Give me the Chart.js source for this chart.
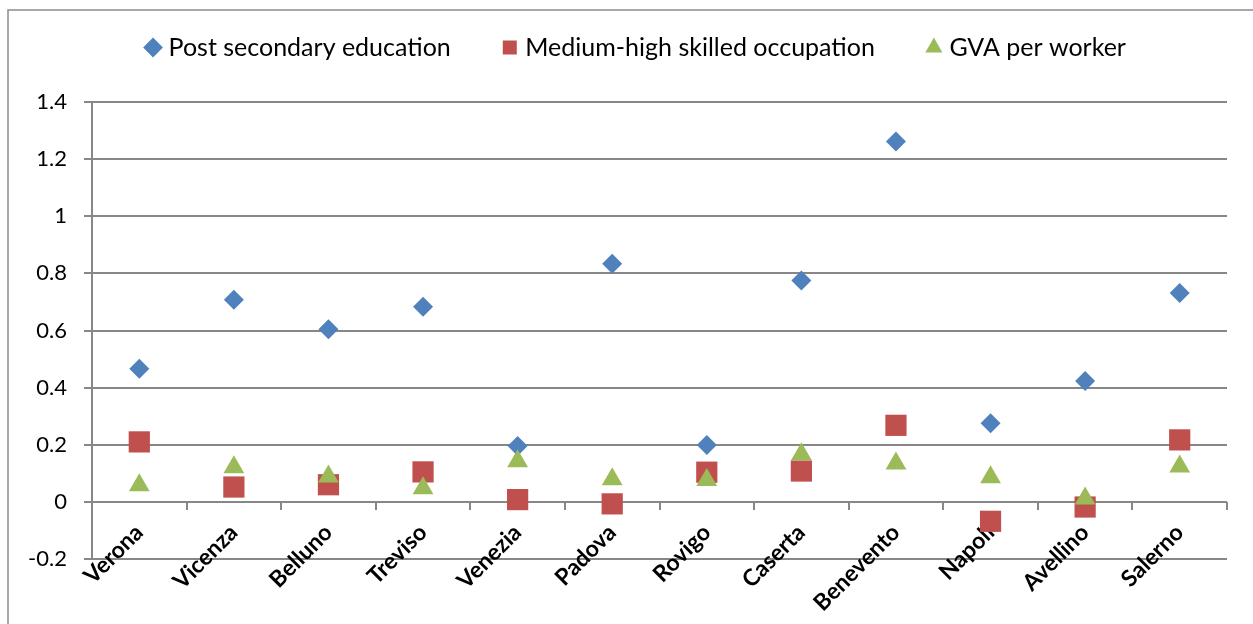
<!DOCTYPE html>
<html>
<head>
<meta charset="utf-8">
<script src="https://cdn.jsdelivr.net/npm/chart.js@4.4.1/dist/chart.umd.min.js"></script>
<style>
  html, body { margin: 0; padding: 0; background: #fff; }
  #wrap { position: relative; width: 1253px; height: 624px; }
</style>
</head>
<body>
<div id="wrap"><canvas id="chart"></canvas></div>
<script>
// provinces along the x axis
var provinces = ['Verona', 'Vicenza', 'Belluno', 'Treviso', 'Venezia', 'Padova',
                 'Rovigo', 'Caserta', 'Benevento', 'Napoli', 'Avellino', 'Salerno'];

// values
var postSecondary = [0.466, 0.708, 0.604, 0.683, 0.196, 0.834, 0.199, 0.775, 1.262, 0.275, 0.423, 0.731];
var mediumHigh    = [0.21, 0.052, 0.06, 0.105, 0.008, -0.007, 0.104, 0.108, 0.268, -0.068, -0.018, 0.217];
var gvaWorker     = [0.058, 0.121, 0.089, 0.048, 0.142, 0.079, 0.077, 0.167, 0.134, 0.086, 0.012, 0.124];

var yMin = -0.2, yMax = 1.4, yStep = 0.2;

var gridGrey = '#878787';
var font = 'Lato, "Open Sans", sans-serif';

var framePlugin = {
    id: 'frame',
    afterLayout: function(chart) {
        // let the y tick labels use the space left of the axis box
        chart.scales.y.left = 0;
    },
    beforeDraw: function(chart) {
        var ctx = chart.ctx;
        ctx.save();
        ctx.fillStyle = '#fff';
        ctx.fillRect(0, 0, chart.width, chart.height);
        ctx.strokeStyle = '#8c8c8c';
        ctx.lineWidth = 1.5;
        ctx.strokeRect(8, 10, 1400, 700);
        ctx.restore();
    }
};

var ctx = document.getElementById('chart').getContext('2d');
new Chart(ctx, {
    type: 'line',
    data: {
        labels: provinces,
        datasets: [{
            label: 'Post secondary education',
            data: postSecondary,
            showLine: false,
            pointStyle: 'rectRot',
            pointRadius: 10,
            pointHoverRadius: 10,
            pointBorderWidth: 0,
            backgroundColor: '#4F81BD',
            borderColor: '#4F81BD',
            order: 2
        }, {
            label: 'Medium-high skilled occupation',
            data: mediumHigh,
            showLine: false,
            pointStyle: 'rect',
            pointRadius: 15,
            pointHoverRadius: 15,
            pointBorderWidth: 0,
            backgroundColor: '#C0504D',
            borderColor: '#C0504D',
            order: 1
        }, {
            label: 'GVA per worker',
            data: gvaWorker,
            showLine: false,
            pointStyle: 'triangle',
            pointRadius: 12,
            pointHoverRadius: 12,
            pointBorderWidth: 0,
            backgroundColor: '#9BBB59',
            borderColor: '#9BBB59',
            order: 0
        }]
    },
    options: {
        responsive: true,
        maintainAspectRatio: false,
        animation: false,
        layout: {
            padding: { top: -21, left: 49, right: 26, bottom: 65 }
        },
        plugins: {
            tooltip: { enabled: false },
            legend: {
                position: 'top',
                labels: {
                    usePointStyle: true,
                    boxWidth: 6,
                    boxHeight: 14,
                    padding: 56,
                    color: '#000',
                    font: { family: font, size: 25 },
                    sort: function(a, b) { return a.datasetIndex - b.datasetIndex; }
                }
            },
            // empty title used as a gap between the legend and the plot
            title: {
                display: true,
                text: '',
                weight: 500,
                font: { size: 10, lineHeight: 1 },
                padding: { top: 11, bottom: 11 }
            }
        },
        scales: {
            x: {
                type: 'category',
                offset: true,
                position: { y: 0 },
                grid: {
                    offset: true,
                    drawOnChartArea: false,
                    drawTicks: true,
                    tickLength: 8,
                    color: gridGrey,
                    lineWidth: 2
                },
                border: { display: false },
                ticks: {
                    autoSkip: false,
                    minRotation: 45,
                    maxRotation: 45,
                    padding: 9,
                    color: '#000',
                    font: { family: font, size: 23, weight: 'bold' }
                }
            },
            y: {
                min: yMin,
                max: yMax,
                grid: {
                    color: gridGrey,
                    lineWidth: 2,
                    tickLength: 8
                },
                border: { display: true, color: gridGrey, width: 2 },
                ticks: {
                    stepSize: yStep,
                    padding: 17,
                    color: '#000',
                    font: { family: font, size: 22 },
                    callback: function(v) { return String(+Number(v).toFixed(1)); }
                },
                afterFit: function(scale) { scale.width = 43; }
            }
        }
    },
    plugins: [framePlugin]
});
</script>
</body>
</html>
